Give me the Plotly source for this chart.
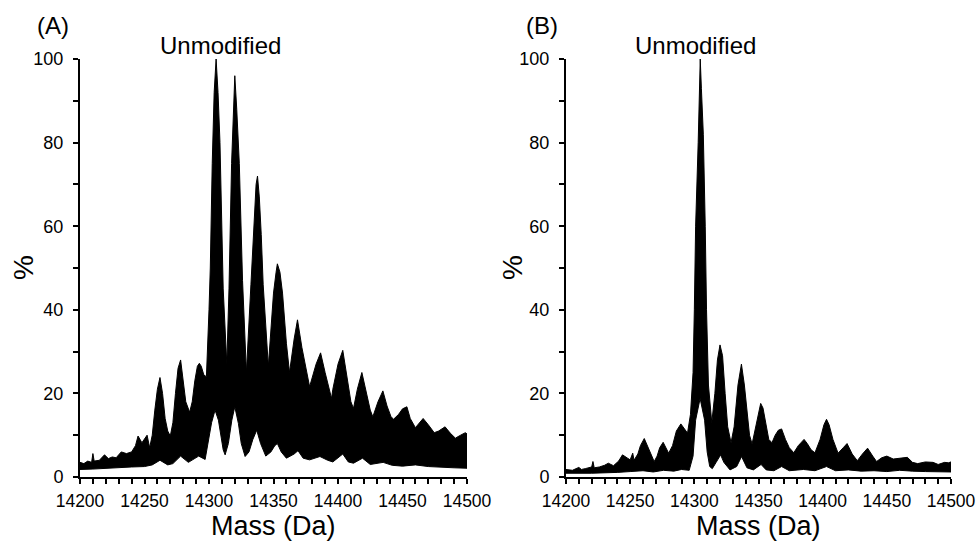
import plotly.graph_objects as go

# ---------------- data ----------------
# Panel A: upper / lower envelopes of the deconvoluted spectrum (mass in Da, intensity in %)
a_upper_mass = [14200, 14203, 14206, 14209, 14210, 14211, 14215, 14219, 14222, 14225, 14228, 14232,
                14236, 14240, 14243, 14245, 14248, 14250, 14252, 14254, 14256, 14258, 14260, 14262,
                14264, 14266, 14268, 14270, 14272, 14274, 14276, 14278, 14280, 14282, 14285, 14287,
                14289, 14291, 14292.5, 14294, 14296, 14298, 14300, 14301, 14302.5, 14304, 14305.5,
                14307, 14308.5, 14310, 14311, 14313.8, 14315.5, 14317.5, 14319, 14320, 14321.5,
                14323.5, 14326, 14329, 14332.5, 14334.5, 14336.5, 14337.6, 14339, 14340.5, 14342,
                14346, 14350, 14352, 14353, 14355, 14357, 14360, 14362.4, 14366, 14368.6, 14372,
                14375, 14378, 14383, 14386.5, 14390, 14393, 14395, 14396, 14400, 14403.7, 14407,
                14410, 14412, 14415, 14418.5, 14422, 14425, 14427, 14431, 14434.8, 14438, 14441,
                14443, 14447, 14450, 14453.4, 14456, 14460, 14463, 14466, 14470, 14474.6, 14478,
                14483, 14487, 14491, 14495, 14498.7, 14500]
a_upper_pct = [3.5, 3.2, 3.8, 3.5, 5.6, 3.8, 4.0, 5.3, 4.4, 4.8, 4.6, 6.0,
               5.6, 6.0, 7.5, 9.8, 8.2, 9.0, 10.0, 7.0, 10.0, 16.0, 21.0, 23.8,
               20.0, 14.0, 11.0, 9.8, 13.0, 20.0, 26.0, 28.0, 23.0, 18.0, 15.5, 18.0,
               23.0, 26.5, 27.2, 26.5, 24.4, 24.0, 40.0, 50.0, 75.0, 92.0, 100.0,
               92.0, 80.0, 60.0, 45.0, 27.0, 45.0, 75.0, 88.0, 96.0, 88.0,
               75.0, 47.0, 25.0, 46.0, 60.0, 70.0, 72.0, 67.0, 58.0, 46.0,
               26.5, 44.0, 49.0, 51.0, 49.0, 44.0, 32.0, 25.0, 33.0, 37.6, 31.0,
               26.0, 21.6, 27.0, 29.7, 25.0, 21.0, 18.8, 21.0, 27.0, 30.3, 24.0,
               18.0, 16.4, 21.0, 25.0, 20.0, 16.0, 14.4, 18.0, 20.6, 17.0, 14.5,
               13.8, 15.0, 16.3, 16.8, 14.0, 11.8, 13.0, 14.0, 12.5, 10.6, 11.0,
               12.0, 10.5, 9.3, 10.0, 10.6, 10.3]
a_lower_mass = [14200, 14210, 14220, 14230, 14240, 14250, 14256, 14262, 14268, 14272, 14278, 14284,
                14292, 14297, 14299.6, 14302, 14304.7, 14307.3, 14311, 14312.5, 14315, 14317.7,
                14320, 14322.8, 14325, 14328, 14331, 14334, 14337, 14340, 14344, 14348, 14351,
                14353, 14356, 14360, 14366, 14369, 14373, 14378, 14386, 14392, 14396, 14403.7,
                14408, 14412, 14419, 14425, 14435, 14442, 14450, 14460, 14470, 14480, 14490, 14500]
a_lower_pct = [1.8, 1.9, 2.0, 2.2, 2.4, 2.5, 2.9, 4.0, 2.9, 3.2, 5.0, 3.5,
               5.0, 4.2, 8.9, 13.0, 16.0, 13.6, 6.5, 5.3, 8.0, 13.6,
               16.8, 12.8, 8.0, 4.9, 6.0, 9.0, 11.2, 8.0, 5.0, 6.0, 7.5,
               8.0, 6.0, 4.5, 5.5, 6.3, 4.5, 4.1, 4.9, 4.0, 3.6, 5.5,
               3.6, 3.3, 4.5, 3.0, 3.5, 2.8, 2.6, 2.9, 2.5, 2.4, 2.2, 2.1]

# Panel B
b_upper_mass = [14200, 14205, 14210, 14212, 14215, 14220, 14221, 14222, 14226, 14230, 14233, 14237,
                14241, 14244, 14248, 14250, 14252, 14253, 14256, 14258, 14261, 14264, 14266.5,
                14268.7, 14271, 14273, 14275.7, 14278, 14280, 14283, 14286, 14289.5, 14292,
                14294.7, 14297, 14299, 14300, 14301, 14303, 14304, 14304.6, 14305.5, 14307,
                14308.5, 14309.5, 14311, 14313.6, 14316, 14318, 14320, 14322, 14324, 14326,
                14328.6, 14331, 14334, 14336.7, 14339, 14341, 14343, 14345, 14348, 14351.7,
                14353.5, 14356, 14358, 14360.5, 14363, 14365.5, 14368, 14371, 14374, 14377.5,
                14381, 14385.5, 14388, 14391, 14394, 14398, 14401, 14403, 14405, 14408, 14412,
                14416, 14419, 14423, 14427, 14431, 14435, 14439, 14442, 14446, 14450, 14455,
                14462, 14466, 14470, 14474, 14480, 14486, 14490, 14495, 14498, 14500]
b_upper_pct = [1.8, 1.6, 2.3, 1.8, 2.0, 2.4, 3.7, 2.2, 2.4, 2.8, 3.3, 2.7,
               3.8, 5.3, 4.5, 4.1, 5.7, 4.0, 5.5, 7.5, 9.2, 7.0, 5.0,
               3.7, 5.0, 7.0, 8.3, 7.0, 5.7, 7.5, 11.0, 12.7, 11.5,
               10.5, 15.0, 25.0, 40.0, 60.0, 80.0, 95.0, 100.0, 93.0, 82.0,
               60.0, 40.0, 22.0, 13.0, 20.0, 28.0, 31.6, 29.0, 20.0, 12.0,
               8.2, 12.0, 22.0, 27.0, 22.0, 15.0, 10.0, 7.9, 12.0, 17.6,
               16.5, 12.0, 9.0, 8.2, 10.0, 11.2, 11.5, 9.0, 7.0, 5.8,
               7.5, 9.0, 8.0, 6.5, 5.8, 9.0, 12.5, 13.8, 12.5, 9.0, 5.7,
               7.0, 8.0, 5.5, 3.9, 5.5, 6.9, 5.0, 3.7, 4.6, 5.0, 4.3,
               4.5, 4.7, 3.5, 3.2, 3.6, 3.5, 3.0, 3.5, 3.4, 3.6]
b_lower_mass = [14200, 14220, 14240, 14250, 14260, 14268, 14276, 14284, 14290, 14296, 14299,
                14301, 14304.5, 14308, 14310, 14312, 14314, 14317, 14320.5, 14323, 14327.8,
                14333, 14336.8, 14341, 14346, 14352, 14356, 14362, 14368, 14374, 14385, 14394,
                14403, 14410, 14420, 14430, 14440, 14450, 14460, 14470, 14480, 14490, 14500]
b_lower_pct = [0.9, 0.9, 1.1, 1.3, 1.5, 1.2, 1.6, 1.4, 1.8, 1.6, 5.0,
               13.6, 18.8, 13.6, 6.0, 2.5, 2.0, 3.5, 5.3, 3.5, 1.7,
               2.5, 4.9, 2.2, 1.7, 3.0, 1.7, 1.5, 2.5, 1.5, 1.8, 1.5,
               2.5, 1.5, 1.7, 1.4, 1.5, 1.3, 1.6, 1.4, 1.3, 1.2, 1.2]

x_tick_vals = list(range(14200, 14501, 10))
x_tick_text = [str(v) if v % 50 == 0 else "" for v in x_tick_vals]
y_tick_vals = list(range(0, 101, 10))
y_tick_text = [str(v) if v % 20 == 0 else "" for v in y_tick_vals]

panel_labels = ["(A)", "(B)"]
peak_label = "Unmodified"
x_title = "Mass (Da)"
y_title = "%"

FONT = "Arial, Liberation Sans, sans-serif"
W, H = 976, 541

fig = go.Figure()


def band(xu, yu, xl, yl, xa, ya):
    xs = list(xu) + list(reversed(xl))
    ys = list(yu) + list(reversed(yl))
    fig.add_trace(go.Scatter(x=xs, y=ys, mode="lines", fill="toself",
                             fillcolor="black", line=dict(color="black", width=1),
                             xaxis=xa, yaxis=ya, showlegend=False, hoverinfo="skip"))


band(a_upper_mass, a_upper_pct, a_lower_mass, a_lower_pct, "x", "y")
band(b_upper_mass, b_upper_pct, b_lower_mass, b_lower_pct, "x2", "y2")

y_top = 1 - 59 / H
y_bot = 1 - 477 / H

common_x = dict(range=[14200, 14500], tickmode="array", tickvals=x_tick_vals, ticktext=x_tick_text,
                ticks="outside", ticklen=5, tickwidth=1.5, tickcolor="black",
                showline=True, linecolor="black", linewidth=2, showgrid=False, zeroline=False,
                tickfont=dict(family=FONT, size=17.5, color="black"), ticklabelstandoff=2,
                automargin=False, fixedrange=True)
common_y = dict(range=[0, 100], tickmode="array", tickvals=y_tick_vals, ticktext=y_tick_text,
                ticks="outside", ticklen=5, tickwidth=1.5, tickcolor="black",
                showline=True, linecolor="black", linewidth=2, showgrid=False, zeroline=False,
                tickfont=dict(family=FONT, size=18, color="black"), ticklabelstandoff=6,
                automargin=False, fixedrange=True)

fig.update_layout(
    width=W, height=H,
    margin=dict(l=0, r=0, t=0, b=0, autoexpand=False),
    paper_bgcolor="white", plot_bgcolor="white",
    xaxis=dict(domain=[80 / W, 467 / W], anchor="y", **common_x),
    yaxis=dict(domain=[y_bot, y_top], anchor="x", **common_y),
    xaxis2=dict(domain=[566 / W, 951 / W], anchor="y2", **common_x),
    yaxis2=dict(domain=[y_bot, y_top], anchor="x2", **common_y),
)

ann = []
for lab, cx in zip(panel_labels, [52.5, 541.5]):
    ann.append(dict(text=lab, x=cx / W, y=1 - 26 / H, xref="paper", yref="paper",
                    xanchor="center", yanchor="middle", showarrow=False,
                    font=dict(family=FONT, size=24, color="black")))
for cx in [220.5, 695.5]:
    ann.append(dict(text=peak_label, x=cx / W, y=1 - 46 / H, xref="paper", yref="paper",
                    xanchor="center", yanchor="middle", showarrow=False,
                    font=dict(family=FONT, size=24, color="black")))
for cx in [273.5, 758.5]:
    ann.append(dict(text=x_title, x=cx / W, y=1 - 526 / H, xref="paper", yref="paper",
                    xanchor="center", yanchor="middle", showarrow=False,
                    font=dict(family=FONT, size=27, color="black")))
for cx in [23, 512]:
    ann.append(dict(text=y_title, x=cx / W, y=1 - 268 / H, xref="paper", yref="paper",
                    xanchor="center", yanchor="middle", showarrow=False, textangle=-90,
                    font=dict(family=FONT, size=28, color="black")))
fig.update_layout(annotations=ann)

fig.write_html("out.html", config={"displayModeBar": False},
               post_script="document.body.style.margin='0';document.body.style.overflow='hidden';")
